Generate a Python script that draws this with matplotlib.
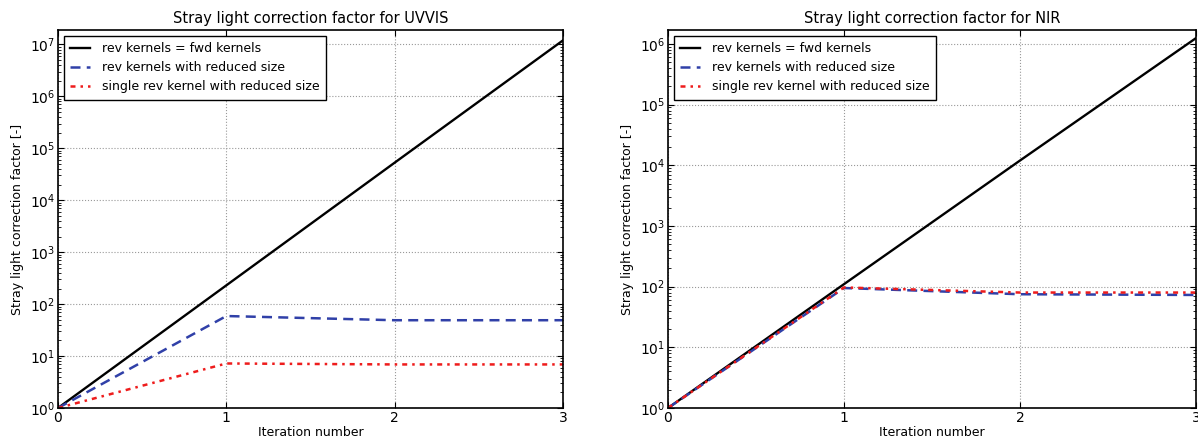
import matplotlib
matplotlib.use('Agg')
import matplotlib.pyplot as plt
from matplotlib.ticker import LogLocator

iterations = [0, 1, 2, 3]

uvvis_full = [1, 230, 5.3e4, 1.2e7]
uvvis_reduced = [1, 59, 49, 49]
uvvis_single = [1, 7.2, 6.9, 6.9]

nir_full = [1, 110, 1.2e4, 1.25e6]
nir_reduced = [1, 95, 75, 73]
nir_single = [1, 97, 80, 80]

labels = ['rev kernels = fwd kernels',
          'rev kernels with reduced size',
          'single rev kernel with reduced size']
titles = ['Stray light correction factor for UVVIS',
          'Stray light correction factor for NIR']
ylims = [(1, 1.9e7), (1, 1.7e6)]

plt.rcParams['font.family'] = 'DejaVu Sans'
plt.rcParams['font.size'] = 9.5
plt.rcParams['xtick.direction'] = 'in'
plt.rcParams['ytick.direction'] = 'in'

fig = plt.figure(figsize=(11.98, 4.43), dpi=100)
ax1 = fig.add_axes([58 / 1198, 35 / 443, 505 / 1198, 378 / 443])
ax2 = fig.add_axes([668 / 1198, 35 / 443, 528 / 1198, 378 / 443])

panels = [
    (ax1, uvvis_full, uvvis_reduced, uvvis_single),
    (ax2, nir_full, nir_reduced, nir_single),
]

for i, (ax, full, reduced, single) in enumerate(panels):
    ax.plot(iterations, full, '-', color='black', lw=1.7, label=labels[0])
    ax.plot(iterations, reduced, color='#3040a8', lw=1.8, dashes=(4, 2.5), label=labels[1])
    ax.plot(iterations, single, color='#ee1c1c', lw=1.8, dashes=(2, 2, 1, 2), label=labels[2])
    ax.set_yscale('log')
    ax.set_xlim(0, 3)
    ax.set_ylim(*ylims[i])
    ax.set_xticks(iterations)
    ax.yaxis.set_major_locator(LogLocator(base=10, numticks=20))
    ax.yaxis.set_minor_locator(LogLocator(base=10, subs=range(2, 10), numticks=100))
    ax.tick_params(which='both', right=True, top=True, pad=2)
    ax.tick_params(which='major', length=4, width=0.8, labelsize=10)
    ax.tick_params(which='minor', length=2, width=0.6)
    ax.grid(True, which='major', linestyle=':', color='#999999', linewidth=0.8)
    ax.set_title(titles[i], fontsize=10.5, pad=5)
    ax.set_xlabel('Iteration number', fontsize=9, labelpad=1)
    ax.set_ylabel('Stray light correction factor [-]', fontsize=9, labelpad=4)
    for s in ax.spines.values():
        s.set_linewidth(1.2)
    leg = ax.legend(loc='upper left', fontsize=9, fancybox=False, framealpha=1,
                    edgecolor='black', handlelength=1.6, handletextpad=1.0,
                    borderaxespad=0.45, labelspacing=0.5, borderpad=0.5)
    leg.get_frame().set_linewidth(1.0)

fig.savefig('out.png', dpi=100, facecolor='white')
